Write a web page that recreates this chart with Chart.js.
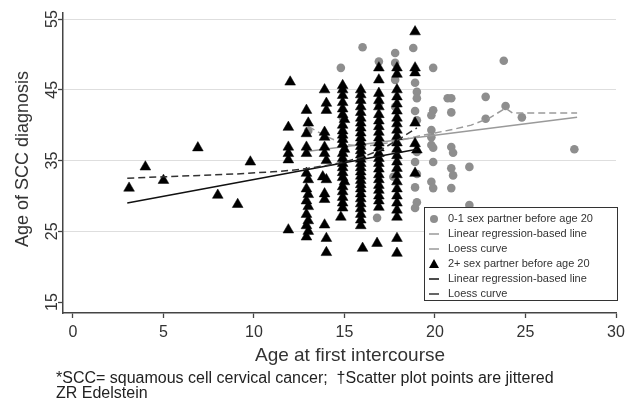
<!DOCTYPE html>
<html><head><meta charset="utf-8">
<script src="https://cdn.jsdelivr.net/npm/chart.js@4/dist/chart.umd.min.js"></script>
<style>html,body{margin:0;padding:0;background:#fff}#wrap{width:627px;height:399px;position:relative}</style>
</head><body><div id="wrap"><canvas id="c" width="627" height="399"></canvas></div>
<script>
// ---- data ----
const xTicks = [0, 5, 10, 15, 20, 25, 30];
const yTicks = [15, 25, 35, 45, 55];
const xTitle = 'Age at first intercourse';
const yTitle = 'Age of SCC diagnosis';
const footnotes = ['*SCC= squamous cell cervical cancer;  \u2020Scatter plot points are jittered', 'ZR Edelstein'];
const legendLabels = ['0-1 sex partner before age 20', 'Linear regression-based line', 'Loess curve',
                      '2+ sex partner before age 20', 'Linear regression-based line', 'Loess curve'];

// 0-1 partner group (gray circles): [age at first intercourse, age at diagnosis]
const group01Points = [
  [13.0,39.2],[14.8,48.1],[14.9,41.1],[16.0,51.0],[16.9,49.0],[16.9,43.1],[16.8,26.9],
  [17.8,50.2],[17.8,48.8],[17.8,46.4],[17.8,42.6],[17.7,32.7],
  [18.8,50.9],[18.9,46.0],[19.0,44.7],[19.0,43.8],[18.9,42.0],[19.0,40.7],[19.0,36.2],
  [18.9,34.8],[19.0,33.1],[18.9,31.2],[19.0,29.1],[18.9,28.3],
  [19.9,48.1],[19.9,42.1],[19.8,41.4],[19.8,39.3],[19.8,38.3],[19.8,37.2],[19.9,36.8],
  [19.9,34.8],[19.8,32.0],[19.9,31.1],
  [20.7,43.8],[20.9,43.8],[20.9,41.8],[20.9,36.9],[21.0,36.1],[20.9,33.9],[21.0,32.9],[20.9,31.1],
  [21.9,34.1],[21.9,28.7],[22.8,44.0],[22.8,40.9],[23.8,49.1],[23.9,42.7],[24.8,41.1],[27.7,36.6]
];
// 2+ partner group (black triangles)
const group2Points = [
  [3.1,31.1],[4.0,34.1],[5.0,32.2],[6.9,36.8],[8.0,30.1],[9.1,28.8],[9.8,34.8],
  [12.0,46.1],[11.9,39.7],[11.9,36.9],[11.9,36.0],[11.9,35.1],[11.9,25.2],
  [12.9,42.1],[13.0,40.3],[12.9,38.8],[12.9,36.9],[12.9,36.0],[12.9,33.2],[13.0,32.3],[12.9,31.0],
  [13.0,30.2],[12.9,29.3],[13.0,28.5],[12.9,27.4],[13.0,26.5],[12.9,25.8],[13.0,25.0],[12.9,24.2],
  [13.9,45.0],[14.0,43.1],[14.0,42.1],[13.9,39.0],[13.9,38.3],[13.9,36.9],[13.9,36.0],[14.0,35.0],
  [13.8,32.7],[14.0,32.3],[13.9,30.3],[13.9,29.5],[13.9,25.9],[14.0,24.0],[14.0,22.0],
  [14.9,45.6],[14.9,45.0],[14.9,44.2],[14.9,43.2],[14.9,42.3],[14.9,41.5],[15.0,40.8],[14.9,40.0],
  [14.9,39.2],[14.9,38.6],[14.9,38.0],[14.9,37.3],[15.0,36.6],[14.9,36.0],[14.9,35.3],[14.9,34.6],
  [14.9,34.0],[14.9,33.3],[14.9,32.6],[15.0,32.0],[14.9,31.3],[14.9,30.6],[14.9,29.8],[14.9,29.0],
  [14.9,28.3],[14.8,27.0],
  [15.9,45.0],[15.9,44.3],[15.9,43.5],[15.9,42.6],[15.9,41.8],[15.9,41.0],[15.9,40.3],[15.9,39.6],
  [15.9,38.9],[15.9,38.2],[15.9,37.6],[15.9,37.0],[15.9,36.4],[15.9,35.8],[15.9,35.2],[15.9,34.6],
  [15.9,34.0],[15.9,33.4],[15.9,32.8],[15.9,32.2],[15.9,31.6],[15.9,31.0],[15.9,30.3],[15.9,29.6],
  [15.9,28.9],[15.9,28.2],[15.9,27.4],[15.9,26.6],[15.9,25.8],[16.0,22.6],
  [16.9,48.1],[16.9,46.4],[16.9,44.5],[16.9,43.5],[16.9,42.6],[16.9,41.5],[16.9,40.6],[16.9,39.8],
  [16.9,39.0],[16.9,38.2],[16.9,37.5],[16.9,36.8],[16.9,36.0],[16.9,35.3],[16.9,34.6],[16.9,33.8],
  [16.9,33.0],[16.9,32.3],[16.9,31.5],[16.9,30.8],[16.9,30.0],[16.9,29.3],[16.9,28.4],[16.8,23.3],
  [17.9,48.1],[17.9,47.2],[17.9,45.0],[17.9,44.0],[17.9,43.0],[17.9,42.0],[17.9,41.0],[17.9,40.2],
  [17.9,39.3],[17.9,38.4],[17.9,37.5],[17.9,36.6],[17.9,35.7],[17.9,34.8],[17.9,33.9],[17.9,33.0],
  [17.9,32.0],[17.9,31.0],[17.9,30.0],[17.9,29.0],[17.9,28.0],[17.9,27.0],[17.9,24.0],[17.9,21.9],
  [18.9,53.2],[18.9,48.1],[18.9,47.4],[18.9,40.3],[18.9,37.4],[19.0,36.5],[18.9,33.2]
];
const group01Fit = [[13.0,36.3],[27.85,41.1]];
const group01Loess = [[13,39.8],[14,38.4],[15,37.3],[16,37.0],[17,37.3],[18,37.8],[19,38.4],[20,38.9],
                      [21,39.4],[22,40.0],[23,41.0],[23.9,42.4],[24.3,41.7],[27.85,41.7]];
const group2Fit = [[3.0,29.0],[19.0,36.6]];
const group2Loess = [[3,32.5],[5,32.7],[7,32.9],[9,33.1],[11,33.4],[12,33.6],[13,33.9],[14,34.3],
                     [15,34.8],[16,35.5],[17,36.5],[18,38.0],[19,39.6]];

const toXY = arr => arr.map(p => ({x: p[0], y: p[1]}));
const FONT = '"Liberation Sans", Arial, sans-serif';
const GRAY = '#8e8e8e';
const LINEGRAY = '#9a9a9a';

const textPlugin = {
  id: 'texts',
  afterDraw(chart) {
    const ctx = chart.ctx, xs = chart.scales.x, ys = chart.scales.y;
    ctx.save();
    ctx.fillStyle = '#333';
    // y tick labels (rotated)
    ctx.font = '16px ' + FONT;
    ctx.textAlign = 'center'; ctx.textBaseline = 'alphabetic';
    yTicks.forEach(v => {
      ctx.save(); ctx.translate(57, ys.getPixelForValue(v)); ctx.rotate(-Math.PI/2);
      ctx.fillText(String(v), 0, 0); ctx.restore();
    });
    // x tick labels
    xTicks.forEach(v => ctx.fillText(String(v), xs.getPixelForValue(v), 337));
    // titles
    ctx.font = '19px ' + FONT;
    ctx.fillText(xTitle, 350, 361);
    ctx.font = '18px ' + FONT;
    ctx.save(); ctx.translate(28, 159); ctx.rotate(-Math.PI/2); ctx.fillText(yTitle, 0, 0); ctx.restore();
    // footnotes
    ctx.font = '16px ' + FONT; ctx.textAlign = 'left'; ctx.fillStyle = '#222';
    ctx.fillText(footnotes[0], 56, 383);
    ctx.fillText(footnotes[1], 56, 398);
    // legend
    const bx = 424, by = 207, bw = 193, bh = 93;
    ctx.fillStyle = '#fff'; ctx.fillRect(bx, by, bw, bh);
    ctx.strokeStyle = '#333'; ctx.lineWidth = 1; ctx.strokeRect(bx + 0.5, by + 0.5, bw, bh);
    ctx.font = '11px ' + FONT; ctx.textBaseline = 'middle'; ctx.textAlign = 'left';
    const ds = chart.data.datasets;
    ds.forEach((d, i) => {
      const yy = by + 12 + i * 15, sx = 434;
      if (d.showLine) {
        ctx.strokeStyle = d.borderColor; ctx.lineWidth = 1.5; ctx.setLineDash([]);
        ctx.beginPath(); ctx.moveTo(sx - 5, yy); ctx.lineTo(sx + 5, yy); ctx.stroke();
      } else if (d.pointStyle === 'triangle') {
        ctx.fillStyle = d.backgroundColor;
        ctx.beginPath(); ctx.moveTo(sx, yy - 5); ctx.lineTo(sx + 5, yy + 4); ctx.lineTo(sx - 5, yy + 4); ctx.closePath(); ctx.fill();
      } else {
        ctx.fillStyle = d.backgroundColor;
        ctx.beginPath(); ctx.arc(sx, yy, 4, 0, Math.PI * 2); ctx.fill();
      }
      ctx.fillStyle = '#333';
      ctx.fillText(legendLabels[i], 448, yy);
    });
    ctx.restore();
  }
};

new Chart(document.getElementById('c'), {
  type: 'scatter',
  data: {
    datasets: [
      {label: legendLabels[0], data: toXY(group01Points), pointStyle: 'circle', pointRadius: 4.3,
       backgroundColor: GRAY, borderWidth: 0, order: 6},
      {label: legendLabels[1], data: toXY(group01Fit), showLine: true, pointRadius: 0,
       borderColor: LINEGRAY, borderWidth: 1.5, order: 5},
      {label: legendLabels[2], data: toXY(group01Loess), showLine: true, pointRadius: 0,
       borderColor: LINEGRAY, borderWidth: 1.5, borderDash: [7, 4], order: 4},
      {label: legendLabels[3], data: toXY(group2Points), pointStyle: 'triangle', pointRadius: 6.2,
       backgroundColor: '#000', borderColor: '#000', borderWidth: 0.5, order: 3},
      {label: legendLabels[4], data: toXY(group2Fit), showLine: true, pointRadius: 0,
       borderColor: '#111', borderWidth: 1.5, order: 2},
      {label: legendLabels[5], data: toXY(group2Loess), showLine: true, pointRadius: 0,
       borderColor: '#333', borderWidth: 1.5, borderDash: [7, 4], order: 1}
    ]
  },
  options: {
    responsive: false, animation: false, devicePixelRatio: 1,
    layout: {padding: {top: 13, right: 11, left: 0, bottom: 0}},
    plugins: {legend: {display: false}, tooltip: {enabled: false}},
    scales: {
      x: {type: 'linear', min: -0.55, max: 30,
          afterBuildTicks: s => { s.ticks = xTicks.map(v => ({value: v})); },
          afterFit: s => { s.height = 86; },
          ticks: {display: false},
          grid: {drawOnChartArea: false, drawTicks: true, tickLength: 5, tickColor: '#444', tickWidth: 1.3},
          border: {display: true, color: '#444', width: 1.5}},
      y: {type: 'linear', min: 13.45, max: 55.85,
          afterBuildTicks: s => { s.ticks = yTicks.map(v => ({value: v})); },
          afterFit: s => { s.width = 63; },
          ticks: {display: false},
          grid: {color: c => (c.tick && c.tick.value === 15) ? 'rgba(0,0,0,0)' : '#dedede', lineWidth: 1,
                 drawTicks: true, tickLength: 5, tickColor: '#444', tickWidth: 1.3},
          border: {display: true, color: '#444', width: 1.5}}
    }
  },
  plugins: [textPlugin]
});
</script></body></html>
